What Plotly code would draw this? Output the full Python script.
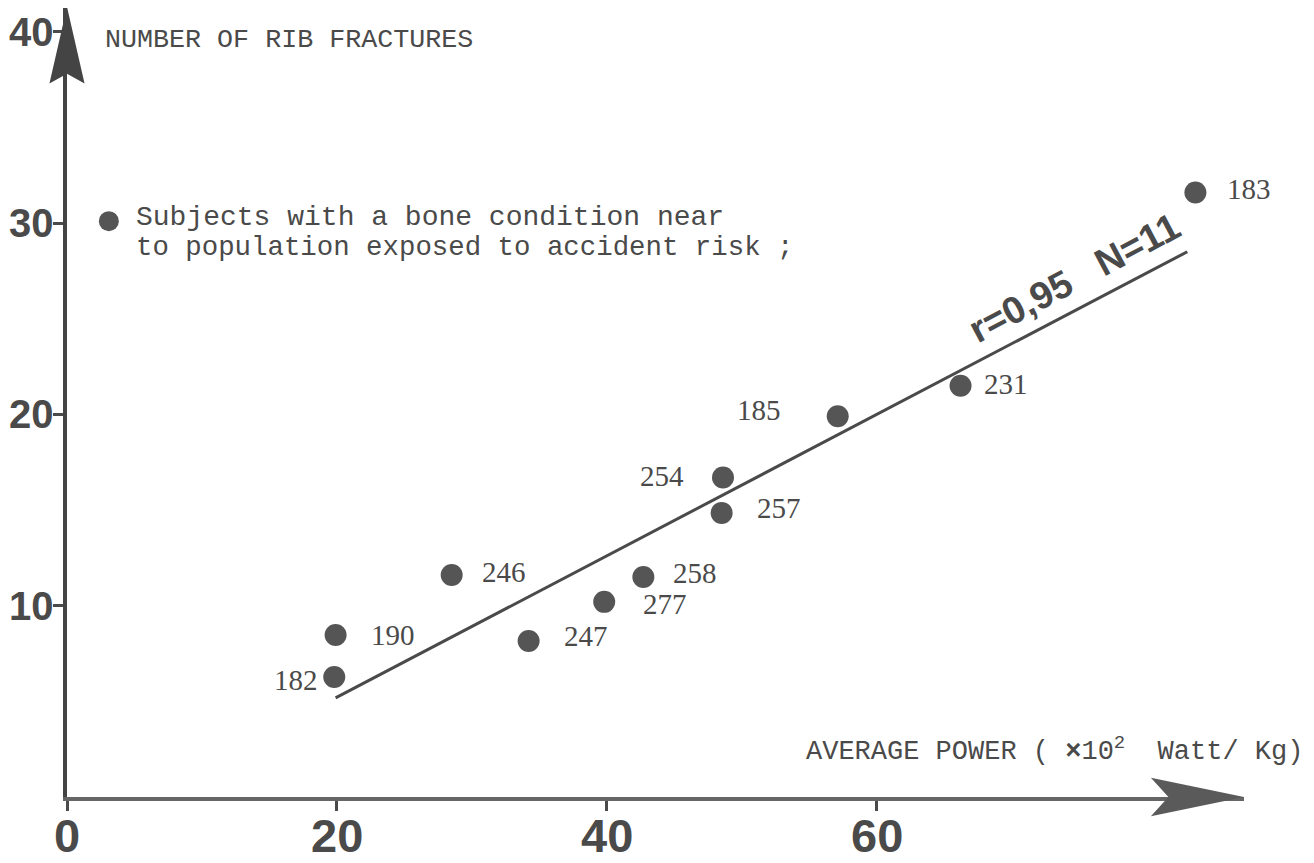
import plotly.graph_objects as go

# ---- data ----
subject_ids = ["182", "190", "246", "247", "277", "258", "254", "257", "185", "231", "183"]
avg_power = [19.8, 19.9, 28.5, 34.2, 39.8, 42.7, 48.6, 48.5, 57.1, 66.2, 83.6]
rib_fractures = [6.27, 8.47, 11.6, 8.15, 10.2, 11.5, 16.7, 14.85, 19.9, 21.5, 31.6]

fit_power = [19.9, 83.0]
fit_fractures = [5.18, 28.5]

legend_power = [3.1]
legend_fractures = [30.1]

x_tick_vals = [0, 20, 40, 60]
x_tick_text = ["0", "20", "40", "60"]
y_tick_vals = [10, 20, 30, 40]
y_tick_text = ["10", "20", "30", "40"]

# ---- style / layout ----
XMAX, YMAX = 87.2, 41.24
INK = "#4a4a4a"
DOT = "#555555"
LABEL_FONT = "Liberation Serif, DejaVu Serif, serif"
MONO_FONT = "Liberation Mono, DejaVu Sans Mono, monospace"
SANS_BOLD = "Liberation Sans, Arial, sans-serif"

# label placement: (xanchor, xshift px, yshift px)
label_place = {
    "182": ("right", -14, -3), "190": ("left", 33, 0), "246": ("left", 28, 3),
    "247": ("left", 33, 5), "277": ("left", 37, -2), "258": ("left", 28, 4),
    "254": ("right", -37, 2), "257": ("left", 33, 5), "185": ("right", -55, 6),
    "231": ("left", 21, 2), "183": ("left", 30, 3),
}

def px(x):
    return x / XMAX

def py(y):
    return y / YMAX

fig = go.Figure()

fig.add_trace(go.Scatter(x=fit_power, y=fit_fractures, mode="lines",
                         line=dict(color=INK, width=3), hoverinfo="skip", showlegend=False))
fig.add_trace(go.Scatter(x=avg_power, y=rib_fractures, mode="markers",
                         marker=dict(size=22, color=DOT), text=subject_ids,
                         showlegend=False, cliponaxis=False))
fig.add_trace(go.Scatter(x=legend_power, y=legend_fractures, mode="markers",
                         marker=dict(size=20, color=DOT), showlegend=False, cliponaxis=False))

annotations = []
for sid, xv, yv in zip(subject_ids, avg_power, rib_fractures):
    anc, xs, ys = label_place[sid]
    annotations.append(dict(x=xv, y=yv, xref="x", yref="y", text=sid, showarrow=False,
                            xanchor=anc, yanchor="middle", xshift=xs, yshift=ys,
                            font=dict(family=LABEL_FONT, size=29, color=INK)))

# x tick labels, placed on the x scale below the axis
for tv, tt in zip(x_tick_vals, x_tick_text):
    annotations.append(dict(x=tv, y=py(-2.0), xref="x", yref="paper", text=tt,
                            showarrow=False, xanchor="center", yanchor="middle", borderpad=0,
                            font=dict(family=SANS_BOLD, size=47, color=INK, weight="bold")))

# y tick labels, placed on the y scale left of the axis
for tv, tt in zip(y_tick_vals, y_tick_text):
    annotations.append(dict(x=0, y=tv, xref="paper", yref="y", text=tt,
                            showarrow=False, xanchor="right", yanchor="middle",
                            xshift=-12, yshift=0, borderpad=0,
                            font=dict(family=SANS_BOLD, size=40, color=INK, weight="bold")))

annotations += [
    dict(x=2.67, y=39.57, xref="x", yref="y", text="NUMBER OF RIB FRACTURES", showarrow=False,
         xanchor="left", yanchor="middle", font=dict(family=MONO_FONT, size=26.7, color=INK)),
    dict(x=4.95, y=30.3, xref="x", yref="y", text="Subjects with a bone condition near",
         showarrow=False, xanchor="left", yanchor="middle",
         font=dict(family=MONO_FONT, size=28, color=INK)),
    dict(x=4.95, y=28.7, xref="x", yref="y", text="to population exposed to accident risk ;",
         showarrow=False, xanchor="left", yanchor="middle",
         font=dict(family=MONO_FONT, size=27.4, color=INK)),
    dict(x=px(91.7), y=py(2.46), xref="paper", yref="paper",
         text="AVERAGE POWER ( <b>×</b>10<sup>2</sup>  Watt/ Kg)", showarrow=False,
         xanchor="right", yanchor="middle", font=dict(family=MONO_FONT, size=27, color=INK)),
    dict(x=74.6, y=27.15, xref="x", yref="y", text="<b>r=0,95&nbsp;&nbsp;&nbsp;N=11</b>",
         showarrow=False, textangle=-28, xanchor="center", yanchor="middle",
         font=dict(family="Liberation Sans Narrow, Liberation Sans, sans-serif", size=38, color=INK)),
]

shapes = [
    # y axis arrowhead
    dict(type="path", xref="paper", yref="paper", line=dict(width=0), fillcolor="#444444",
         path=f"M {px(0)} {py(41.3)} L {px(-1.3)} {py(37.3)} L {px(0)} {py(37.8)} "
              f"L {px(1.3)} {py(37.3)} Z"),
    # x axis arrowhead
    dict(type="path", xref="paper", yref="paper", line=dict(width=0), fillcolor="#5a5a5a",
         path=f"M {px(87.2)} {py(0)} L {px(80.3)} {py(1.0)} L {px(81.6)} {py(0)} "
              f"L {px(80.3)} {py(-1.0)} Z"),
]

fig.update_layout(
    width=1306, height=855,
    margin=dict(l=59, r=70, t=0, b=66, autoexpand=False),
    paper_bgcolor="white", plot_bgcolor="white",
    annotations=annotations, shapes=shapes,
    xaxis=dict(range=[0, XMAX], showgrid=False, zeroline=False, showline=True,
               linecolor="#666666", linewidth=4, ticks="outside", ticklen=10, tickwidth=3,
               tickcolor=INK, tickvals=x_tick_vals, showticklabels=False,
               fixedrange=True),
    yaxis=dict(range=[0, YMAX], showgrid=False, zeroline=False, showline=True,
               linecolor="#444444", linewidth=4, ticks="outside", ticklen=10, tickwidth=3,
               tickcolor=INK, tickvals=y_tick_vals, showticklabels=False,
               fixedrange=True),
    showlegend=False,
)

fig.write_html("out.html")
